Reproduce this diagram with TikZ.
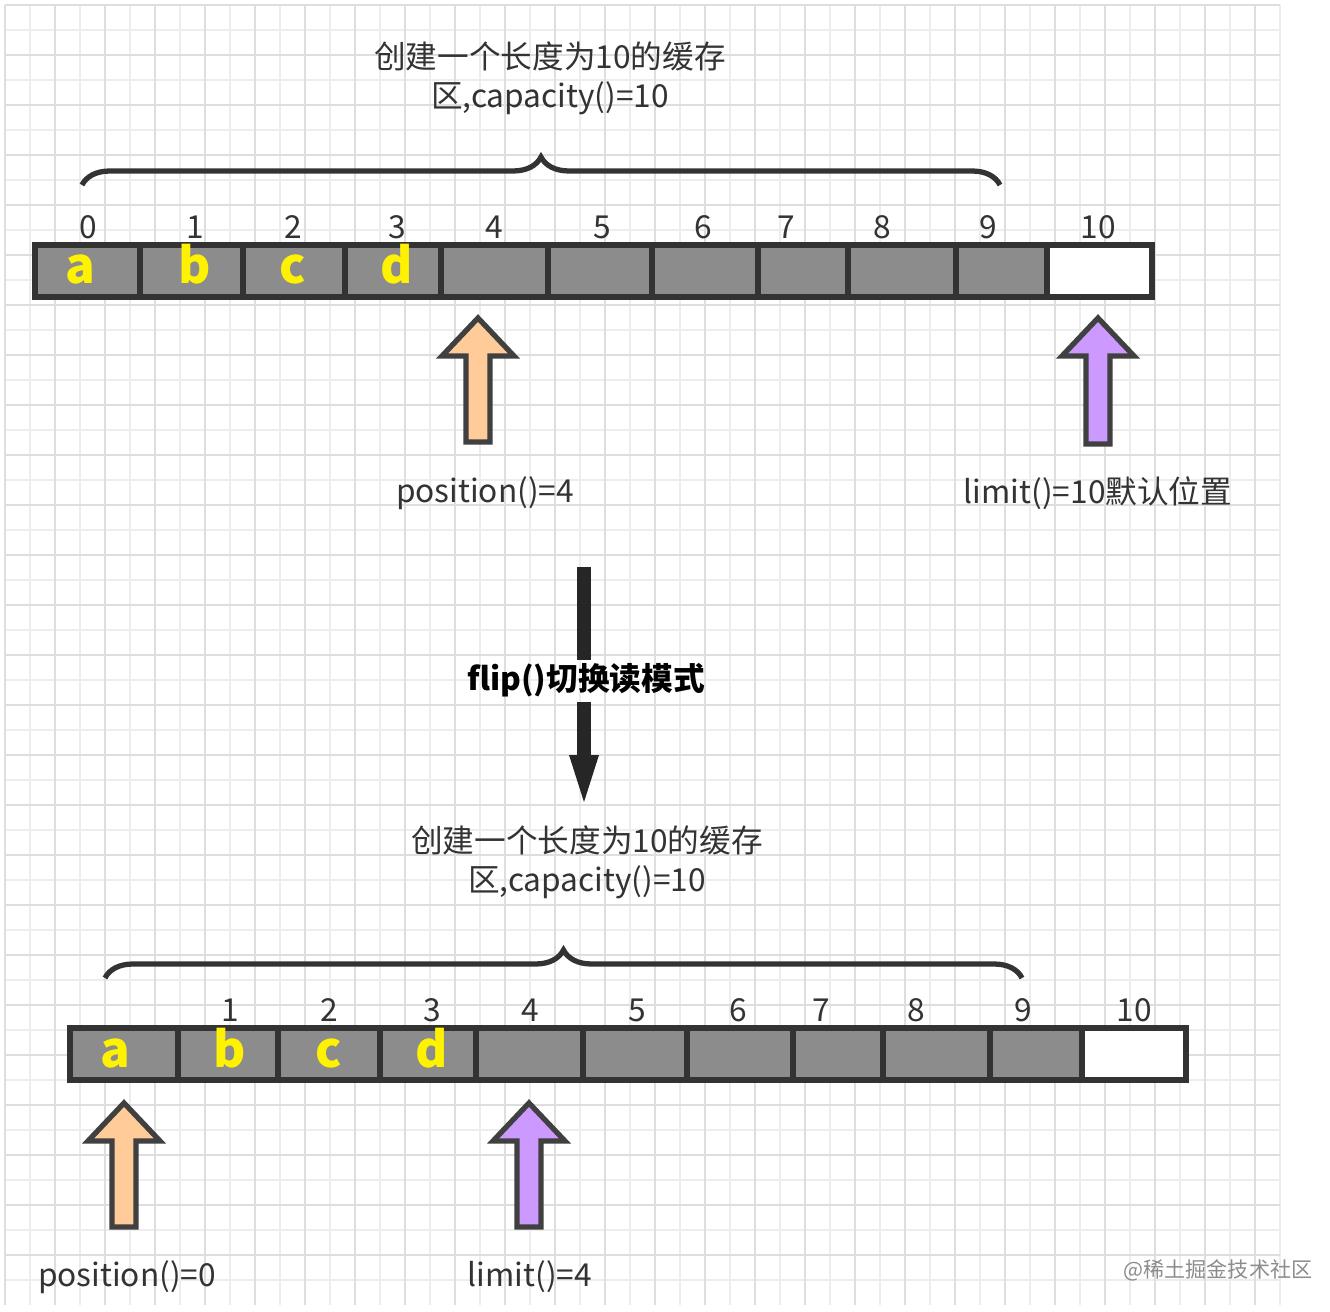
\documentclass[tikz,border=0pt]{standalone}
\usepackage{fontspec}
\setmainfont{Noto Sans CJK SC}
\usetikzlibrary{decorations.pathreplacing}
\definecolor{cellg}{HTML}{8C8C8C}
\definecolor{orng}{HTML}{FFCC99}
\definecolor{purp}{HTML}{CC99FF}
\tikzset{
 cell/.style={draw=black!80,line width=1.8pt,fill=cellg},
 lab/.style={font=\fontsize{9}{11}\selectfont,text=black!80},
 let/.style={font=\fontsize{14}{14}\selectfont\bfseries,text=yellow},
 br/.style={decorate,decoration={brace,amplitude=0.28cm,raise=0pt},line width=1.5pt,draw=black!80},
 uarr/.style={draw=black!75,line width=1.5pt}
}
\newcommand{\uparrw}[4]{% x, top, bottom, color
 \filldraw[uarr,fill=#4] (#1-12,#3) -- (#1-12,#2+38) -- (#1-36,#2+38) -- (#1,#2) -- (#1+36,#2+38) -- (#1+12,#2+38) -- (#1+12,#3) -- cycle;}
\begin{document}
\begin{tikzpicture}[x=0.01cm,y=-0.01cm]
\useasboundingbox (0,0) rectangle (1330,1312);
\fill[white] (0,0) rectangle (1330,1312);
\foreach \k in {0,...,51} {
  \draw[black!7,line width=0.4pt] (5+25*\k,5) -- (5+25*\k,1305);
  \draw[black!7,line width=0.4pt] (5,5+25*\k) -- (1280,5+25*\k);}
\foreach \k in {0,...,25} {
  \draw[black!13,line width=0.6pt] (5+50*\k,5) -- (5+50*\k,1305);
  \draw[black!13,line width=0.6pt] (5,5+50*\k) -- (1280,5+50*\k);}
% top
\node[lab,align=center] (t1) at (550,78) {创建一个长度为10的缓存\\区,capacity()=10};
\draw[br] (82,185) -- (1000,185);
\foreach \a/\b [count=\i] in {35/140,140/243,243/345,345/441,441/548,548/652,652/758,758/848,848/956,956/1047}
  \draw[cell] (\a,245) rectangle (\b,297);
\draw[cell,fill=white] (1047,245) rectangle (1152,297);
\foreach \x/\t in {88/0,195/1,293/2,397/3,494/4,602/5,703/6,786/7,882/8,988/9,1098/10}
  \node[lab,anchor=base] at (\x,238) {\t};
\foreach \x/\t in {80/a,195/b,293/c,397/d} \node[let,anchor=base] at (\x,283) {\t};
\uparrw{478}{318}{442}{orng}
\uparrw{1098}{318}{444}{purp}
\node[lab] (p1) at (485,493) {position()=4};
\node[lab] (l1) at (1098,493) {limit()=10默认位置};
% middle
\coordinate (m1) at (584,567);
\coordinate (m2) at (584,802);
\draw[black!85,line width=4pt] (m1) -- (584,660);
\draw[black!85,line width=4pt] (584,702) -- (584,760);
\fill[black!85] (569,755) -- (599,755) -- (m2) -- cycle;
\node[font=\fontsize{9}{11}\selectfont\bfseries] (fl) at (586,680) {flip()切换读模式};
% bottom
\node[lab,align=center] (t2) at (587,862) {创建一个长度为10的缓存\\区,capacity()=10};
\draw[br] (105,978) -- (1022,978);
\foreach \a/\b in {70/178,178/278,278/380,380/476,476/583,583/687,687/793,793/883,883/990,990/1082}
  \draw[cell] (\a,1028) rectangle (\b,1080);
\draw[cell,fill=white] (1082,1028) rectangle (1186,1080);
\foreach \x/\t in {230/1,329/2,432/3,530/4,637/5,738/6,821/7,916/8,1023/9,1134/10}
  \node[lab,anchor=base] at (\x,1021) {\t};
\foreach \x/\t in {115/a,230/b,329/c,432/d} \node[let,anchor=base] at (\x,1067) {\t};
\uparrw{124}{1103}{1227}{orng}
\uparrw{529}{1103}{1227}{purp}
\node[lab] (p2) at (127,1277) {position()=0};
\node[lab] (l2) at (530,1277) {limit()=4};
\node[font=\fontsize{6}{7}\selectfont,text=black!45] (wm) at (1218,1270) {@稀土掘金技术社区};
\end{tikzpicture}
\end{document}
